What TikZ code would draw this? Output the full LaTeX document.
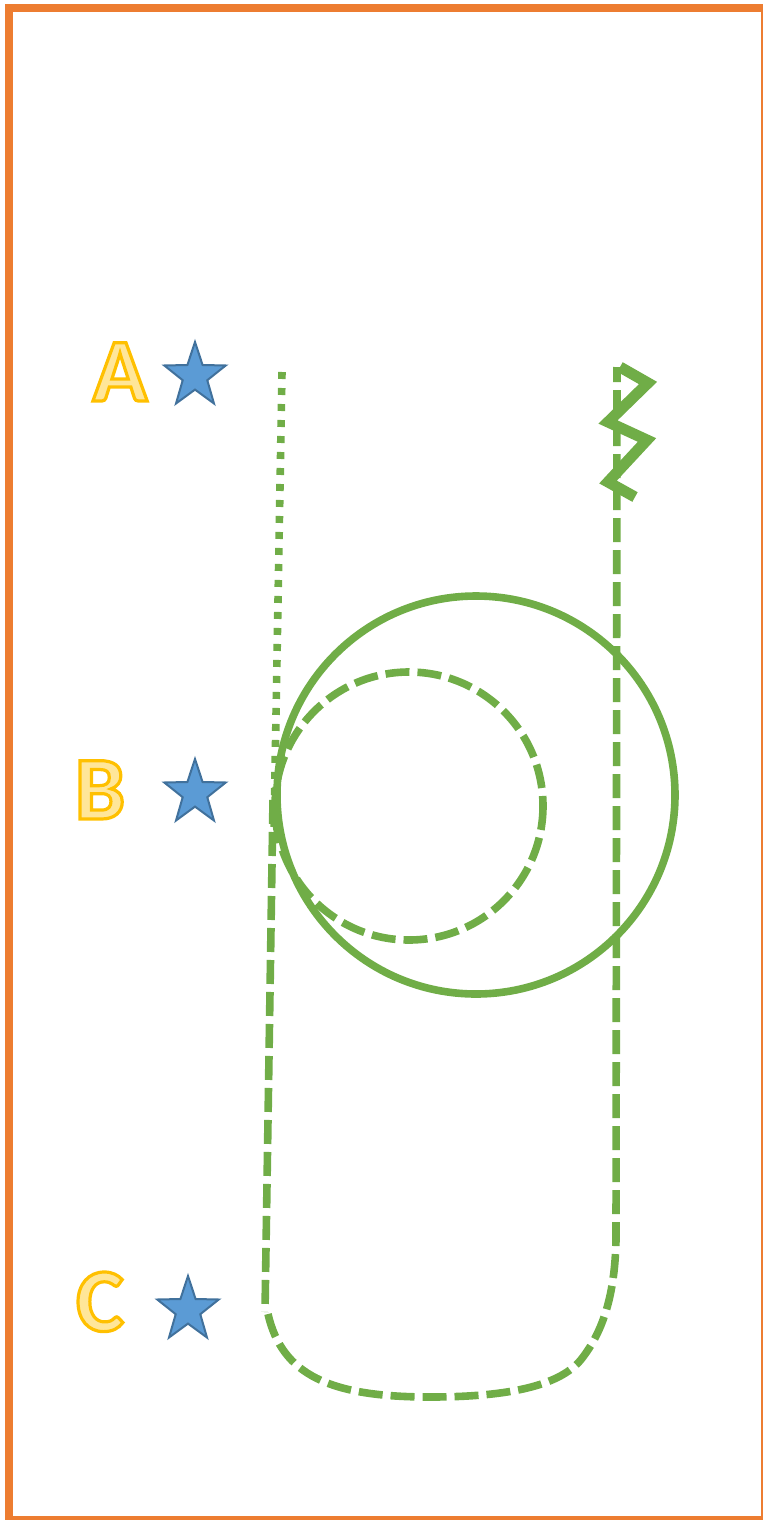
\documentclass[tikz,border=0pt]{standalone}
\usepackage{fontspec}
\setmainfont{Carlito}
\usetikzlibrary{shapes.geometric}
\definecolor{frameor}{HTML}{ED7D31}
\definecolor{grn}{HTML}{70AD47}
\definecolor{starfill}{HTML}{5B9BD5}
\definecolor{starline}{HTML}{41719C}
\definecolor{letterfill}{HTML}{FFE699}
\newcommand\outlinetext[1]{{\color{letterfill}\special{pdf:literal direct 2 Tr 1.6 w 1 0.753 0 RG}#1\special{pdf:literal direct 0 Tr}}}
\begin{document}
\begin{tikzpicture}[x=0.5pt,y=-0.5pt,
  gline/.style={draw=grn, line width=3.8pt},
  gdash/.style={gline, dash pattern=on 12pt off 4pt},
  gdot/.style={gline, dash pattern=on 3.5pt off 4.5pt},
  starnode/.style={star, star points=5, star point ratio=2.5, minimum size=34pt, inner sep=0pt, fill=starfill, draw=starline, line width=1pt, xscale=0.95},
  letter/.style={anchor=base, inner sep=0pt, font=\fontsize{45}{54}\selectfont\bfseries}]
\useasboundingbox (0,0) rectangle (762,1520);
\draw[frameor, line width=4pt] (9,8) rectangle (765,1520);
% letters
\node[letter] (la) at (120,401) {\outlinetext{A}};
\node[letter] (lb) at (100,819) {\outlinetext{B}};
\node[letter] (lc) at (100,1331) {\outlinetext{C}};
% stars
\node[starnode] (sa) at (195,376) {};
\node[starnode] (sb) at (195,793) {};
\node[starnode] (sc) at (188,1310) {};
% circles
\draw[gline] (476,795) circle[radius=199];
\draw[gdash] (409,806) circle[radius=134];
% dotted line
\draw[gdot] (282,372) -- (274,830);
% dashed route
\draw[gdash] (273,800) -- (265,1312)
  (268,1314) .. controls (282,1375) and (330,1397) .. (430,1397)
  .. controls (520,1397) and (565,1382) .. (583,1357)
  .. controls (605,1328) and (615,1290) .. (616,1240) -- (617,367);
% zigzag
\draw[draw=grn, line width=5.5pt, miter limit=10] (620,367) -- (648,383) -- (608,422) -- (647,440) -- (608,482) -- (635,497);
\end{tikzpicture}
\end{document}
